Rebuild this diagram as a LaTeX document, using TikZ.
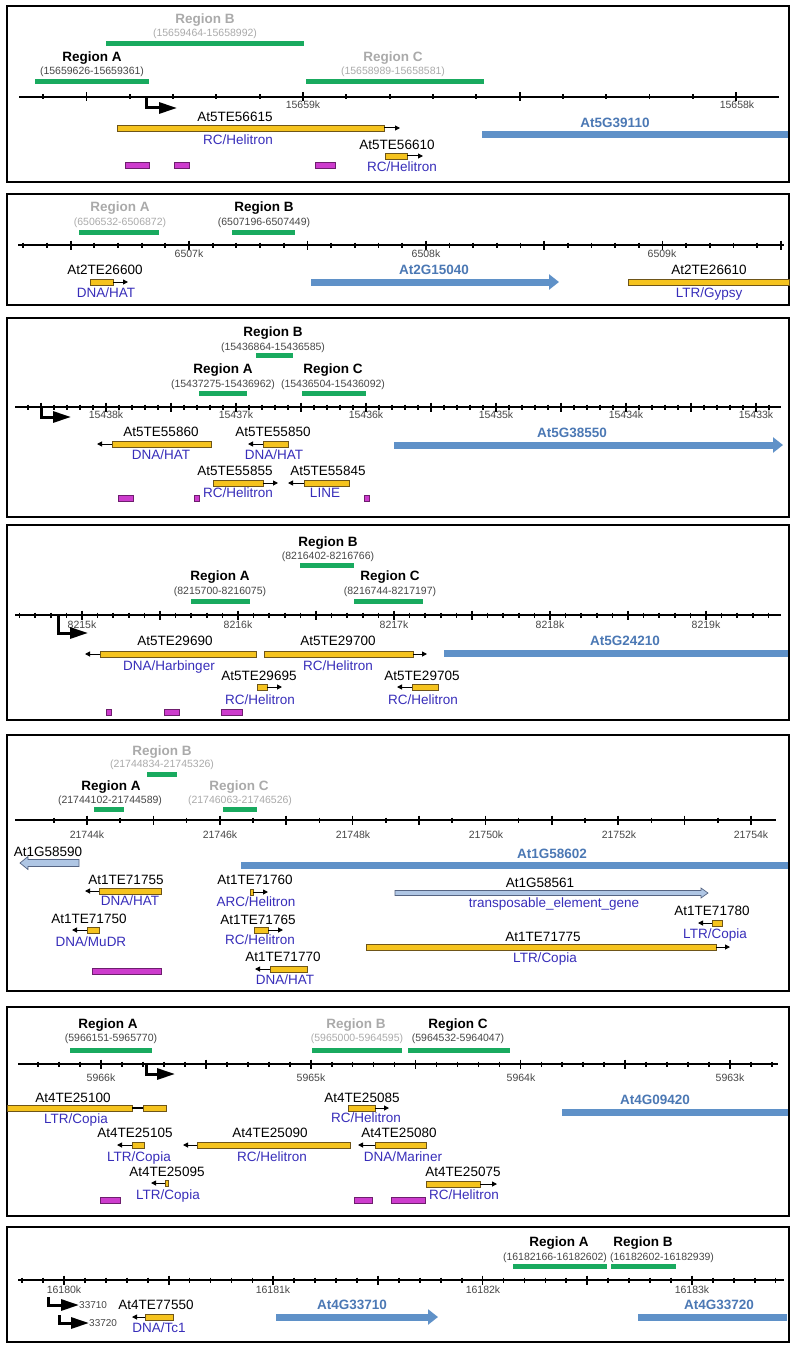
\documentclass[tikz,border=0pt]{standalone}
\usepackage{fontspec}
\setmainfont{Liberation Sans}
\usetikzlibrary{arrows.meta}

\definecolor{regreen}{RGB}{25,170,95}
\definecolor{teyellow}{RGB}{245,195,30}
\definecolor{teedge}{RGB}{110,85,25}
\definecolor{genblue}{RGB}{95,145,200}
\definecolor{genlblue}{RGB}{75,120,180}
\definecolor{lgfill}{RGB}{175,198,228}
\definecolor{lgedge}{RGB}{85,100,130}
\definecolor{magfill}{RGB}{205,60,205}
\definecolor{magedge}{RGB}{110,30,110}
\definecolor{clsblue}{RGB}{55,45,185}
\definecolor{greytxt}{RGB}{170,170,170}
\definecolor{kbgrey}{RGB}{70,70,70}

% ruler: y, x from, x to, origin, step, n from, n to, big every
\newcommand{\drawruler}[8]{%
  \draw[axisline] (#2,#1) -- (#3,#1);
  \foreach \n in {#6,...,#7}{%
    \pgfmathsetmacro\tx{#4+#5*\n}%
    \pgfmathtruncatemacro\isbig{mod(\n+1000,#8)}%
    \ifnum\isbig=0
      \draw[tk] (\tx,#1-4.5) -- (\tx,#1+4.5);
    \else
      \draw[tk] (\tx,#1-2.5) -- (\tx,#1+2.5);
    \fi
  }}

\begin{document}
\begin{tikzpicture}[
  x=1pt, y=-1pt,
  panel/.style={draw=black, line width=2.2pt},
  axisline/.style={line width=1.8pt},
  tk/.style={line width=1.7pt},
  regbar/.style={fill=regreen},
  tebox/.style={draw=teedge, fill=teyellow, line width=0.6pt},
  tearr/.style={-{Triangle[length=5pt,width=5pt]}, line width=1pt},
  genebar/.style={fill=genblue},
  genearr/.style={-{Triangle[length=10pt,width=15pt]}, line width=7pt, draw=genblue},
  lgene/.style={draw=lgedge, fill=lgfill, line width=0.7pt},
  magbox/.style={draw=magedge, fill=magfill, line width=0.5pt},
  tss/.style={-{Triangle[length=18pt,width=11pt]}, line width=3pt},
  telbl/.style={font=\fontsize{13.5}{15}\selectfont, inner sep=0pt, text height=9.6pt, text depth=0pt},
  cls/.style={telbl, text=clsblue},
  genlbl/.style={telbl, font=\fontsize{13.5}{15}\selectfont\bfseries, text=genlblue},
  reg/.style={telbl, font=\fontsize{13.5}{15}\selectfont\bfseries},
  regoff/.style={reg, text=greytxt},
  crd/.style={font=\fontsize{10.5}{12}\selectfont, inner sep=0pt, text height=7.5pt, text depth=0pt, text=kbgrey},
  crdoff/.style={crd, text=greytxt},
  kb/.style={crd},
  tsslbl/.style={font=\fontsize{10}{11}\selectfont, inner sep=0pt, text height=7.2pt, text depth=0pt, text=kbgrey, anchor=west}
]
\useasboundingbox (0,0) rectangle (800,1351);

% ---------------- Panel 1
\draw[panel] (7,6) rectangle (789,182);
\node[regoff] (p1rB) at (205,19) {Region B};
\node[crdoff] (p1rBc) at (205,33) {(15659464-15658992)};
\fill[regbar] (106,41) rectangle (304,46);
\node[reg] (p1rA) at (92,57) {Region A};
\node[crd] (p1rAc) at (92,71) {(15659626-15659361)};
\fill[regbar] (35,79) rectangle (149,84);
\node[regoff] (p1rC) at (393,57) {Region C};
\node[crdoff] (p1rCc) at (393,71) {(15658989-15658581)};
\fill[regbar] (306,79) rectangle (484,84);
\drawruler{97}{19}{779}{303}{43.33}{-6}{10}{5}
\node[kb] (p1k1) at (303,105) {15659k};
\node[kb] (p1k2) at (737,105) {15658k};
\draw[tss] (146,98) -- (146,108) -- (177,108);
\node[telbl] (p1t1) at (235,117) {At5TE56615};
\draw[tebox] (117,125) rectangle (384,131);
\draw[tearr] (384,128) -- (400,128);
\node[cls] (p1c1) at (238,140) {RC/Helitron};
\node[telbl] (p1t2) at (397,145) {At5TE56610};
\draw[tebox] (385,153) rectangle (407,159);
\draw[tearr] (407,156) -- (423,156);
\node[cls] (p1c2) at (402,167) {RC/Helitron};
\foreach \a/\b in {125/149,174/189,315/335} \draw[magbox] (\a,162) rectangle (\b,168);
\fill[genebar] (482,131) rectangle (788,138);
\node[genlbl] (p1g1) at (615,123) {At5G39110};

% ---------------- Panel 2
\draw[panel] (7,194) rectangle (789,305);
\node[regoff] (p2rA) at (120,207) {Region A};
\node[crdoff] (p2rAc) at (120,222) {(6506532-6506872)};
\fill[regbar] (79,229.5) rectangle (159,234.5);
\node[reg] (p2rB) at (264,207) {Region B};
\node[crd] (p2rBc) at (264,222) {(6507196-6507449)};
\fill[regbar] (232,229.5) rectangle (295,234.5);
\drawruler{245}{18}{784}{189}{23.67}{-7}{25}{5}
\node[kb] (p2k1) at (189,254) {6507k};
\node[kb] (p2k2) at (426,254) {6508k};
\node[kb] (p2k3) at (662,254) {6509k};
\node[telbl] (p2t1) at (105,270) {At2TE26600};
\draw[tebox] (90,279) rectangle (113,285);
\draw[tearr] (113,282) -- (128,282);
\node[cls] (p2c1) at (106,293) {DNA/HAT};
\draw[genearr] (311,282) -- (559,282);
\node[genlbl] (p2g1) at (434,270) {At2G15040};
\node[telbl] (p2t2) at (709,270) {At2TE26610};
\draw[tebox] (628,279) rectangle (789,285);
\node[cls] (p2c2) at (709,293) {LTR/Gypsy};

% ---------------- Panel 3
\draw[panel] (7,318) rectangle (789,517);
\node[reg] (p3rB) at (273,332) {Region B};
\node[crd] (p3rBc) at (273,347) {(15436864-15436585)};
\fill[regbar] (256,352.5) rectangle (293,357.5);
\node[reg] (p3rA) at (223,369) {Region A};
\node[crd] (p3rAc) at (223,384) {(15437275-15436962)};
\fill[regbar] (199,390.5) rectangle (247,395.5);
\node[reg] (p3rC) at (333,369) {Region C};
\node[crd] (p3rCc) at (333,384) {(15436504-15436092)};
\fill[regbar] (302,390.5) rectangle (366,395.5);
\drawruler{407}{15}{781}{106}{13}{-6}{51}{5}
\foreach \x/\t [count=\i] in {106/15438k,236/15437k,366/15436k,496/15435k,626/15434k,756/15433k}
  \node[kb] (p3k\i) at (\x,415) {\t};
\draw[tss] (41,408) -- (41,417) -- (71,417);
\node[telbl] (p3t1) at (161,432) {At5TE55860};
\draw[tebox] (112,441) rectangle (211,447);
\draw[tearr] (112,444) -- (97,444);
\node[cls] (p3c1) at (161,455) {DNA/HAT};
\node[telbl] (p3t2) at (273,432) {At5TE55850};
\draw[tebox] (263,441) rectangle (288,447);
\draw[tearr] (263,444) -- (248,444);
\node[cls] (p3c2) at (274,455) {DNA/HAT};
\node[telbl] (p3t3) at (235,471) {At5TE55855};
\draw[tebox] (213,480) rectangle (263,486);
\draw[tearr] (263,483) -- (278,483);
\node[cls] (p3c3) at (238,493) {RC/Helitron};
\node[telbl] (p3t4) at (328,471) {At5TE55845};
\draw[tebox] (304,480) rectangle (349,486);
\draw[tearr] (304,483) -- (288,483);
\node[cls] (p3c4) at (325,493) {LINE};
\foreach \a/\b in {118/133,194/199,364/369} \draw[magbox] (\a,495) rectangle (\b,501);
\draw[genearr] (394,445) -- (783,445);
\node[genlbl] (p3g1) at (572,433) {At5G38550};

% ---------------- Panel 4
\draw[panel] (7,525) rectangle (789,720);
\node[reg] (p4rB) at (328,542) {Region B};
\node[crd] (p4rBc) at (328,556) {(8216402-8216766)};
\fill[regbar] (300,562.5) rectangle (354,567.5);
\node[reg] (p4rA) at (220,576) {Region A};
\node[crd] (p4rAc) at (220,591) {(8215700-8216075)};
\fill[regbar] (191,598.5) rectangle (250,603.5);
\node[reg] (p4rC) at (390,576) {Region C};
\node[crd] (p4rCc) at (390,591) {(8216744-8217197)};
\fill[regbar] (354,598.5) rectangle (423,603.5);
\drawruler{615}{15}{781}{82}{15.6}{-4}{44}{5}
\foreach \x/\t [count=\i] in {82/8215k,238/8216k,394/8217k,550/8218k,706/8219k}
  \node[kb] (p4k\i) at (\x,625) {\t};
\draw[tss] (58,616) -- (58,633) -- (88,633);
\node[telbl] (p4t1) at (175,641) {At5TE29690};
\draw[tebox] (100,651) rectangle (256,657);
\draw[tearr] (100,654) -- (85,654);
\node[cls] (p4c1) at (169,666) {DNA/Harbinger};
\node[telbl] (p4t2) at (338,641) {At5TE29700};
\draw[tebox] (264,651) rectangle (413,657);
\draw[tearr] (413,654) -- (427,654);
\node[cls] (p4c2) at (338,666) {RC/Helitron};
\node[telbl] (p4t3) at (259,676) {At5TE29695};
\draw[tebox] (257,684) rectangle (267,690);
\draw[tearr] (267,687) -- (282,687);
\node[cls] (p4c3) at (260,700) {RC/Helitron};
\node[telbl] (p4t4) at (422,676) {At5TE29705};
\draw[tebox] (412,684) rectangle (438,690);
\draw[tearr] (412,687) -- (397,687);
\node[cls] (p4c4) at (423,700) {RC/Helitron};
\foreach \a/\b in {106/111,164/179,221/242} \draw[magbox] (\a,709) rectangle (\b,715);
\fill[genebar] (444,650) rectangle (788,657);
\node[genlbl] (p4g1) at (625,641) {At5G24210};

% ---------------- Panel 5
\draw[panel] (7,735) rectangle (789,991);
\node[regoff] (p5rB) at (162,751) {Region B};
\node[crdoff] (p5rBc) at (162,764) {(21744834-21745326)};
\fill[regbar] (147,771.5) rectangle (177,776.5);
\node[reg] (p5rA) at (111,786) {Region A};
\node[crd] (p5rAc) at (110,800) {(21744102-21744589)};
\fill[regbar] (94,806.5) rectangle (124,811.5);
\node[regoff] (p5rC) at (239,786) {Region C};
\node[crdoff] (p5rCc) at (240,800) {(21746063-21746526)};
\fill[regbar] (223,806.5) rectangle (257,811.5);
\drawruler{820}{15}{776}{87}{33.2}{-1}{20}{2}
\foreach \x/\t [count=\i] in {87/21744k,220/21746k,353/21748k,486/21750k,619/21752k,751/21754k}
  \node[kb] (p5k\i) at (\x,835) {\t};
\node[telbl] (p5g1) at (48,852) {At1G58590};
\draw[lgene] (79,859.5) -- (28,859.5) -- (28,856.5) -- (20,863) -- (28,869.5) -- (28,866.5) -- (79,866.5) -- cycle;
\fill[genebar] (241,861.5) rectangle (788,868.5);
\node[genlbl] (p5g2) at (552,854) {At1G58602};
\node[telbl] (p5t1) at (126,880) {At1TE71755};
\draw[tebox] (99,888) rectangle (161,894);
\draw[tearr] (99,891) -- (85,891);
\node[cls] (p5c1) at (130,901) {DNA/HAT};
\node[telbl] (p5t2) at (89,919) {At1TE71750};
\draw[tebox] (87,927) rectangle (99,933);
\draw[tearr] (87,930) -- (72,930);
\node[cls] (p5c2) at (91,942) {DNA/MuDR};
\draw[magbox] (92,968) rectangle (161,974);
\node[telbl] (p5t3) at (255,880) {At1TE71760};
\draw[tebox] (250,889) rectangle (253,895);
\draw[tearr] (253,892) -- (268,892);
\node[cls] (p5c3) at (256,902) {ARC/Helitron};
\node[telbl] (p5t4) at (258,920) {At1TE71765};
\draw[tebox] (254,927) rectangle (268,933);
\draw[tearr] (268,930) -- (283,930);
\node[cls] (p5c4) at (260,940) {RC/Helitron};
\node[telbl] (p5t5) at (283,957) {At1TE71770};
\draw[tebox] (270,966) rectangle (307,972);
\draw[tearr] (270,969) -- (255,969);
\node[cls] (p5c5) at (285,980) {DNA/HAT};
\node[telbl] (p5g3) at (540,883) {At1G58561};
\draw[lgene] (395,890.5) -- (701,890.5) -- (701,888) -- (708,893) -- (701,898) -- (701,895.5) -- (395,895.5) -- cycle;
\node[cls] (p5c6) at (554,903) {transposable\_element\_gene};
\node[telbl] (p5t6) at (712,911) {At1TE71780};
\draw[tebox] (712,920) rectangle (722,926);
\draw[tearr] (712,923) -- (698,923);
\node[cls] (p5c7) at (715,934) {LTR/Copia};
\node[telbl] (p5t7) at (543,937) {At1TE71775};
\draw[tebox] (366,944) rectangle (716,950);
\draw[tearr] (716,947) -- (730,947);
\node[cls] (p5c8) at (545,958) {LTR/Copia};

% ---------------- Panel 6
\draw[panel] (7,1007) rectangle (789,1216);
\node[reg] (p6rA) at (108,1024) {Region A};
\node[crd] (p6rAc) at (111,1038) {(5966151-5965770)};
\fill[regbar] (70,1047.5) rectangle (152,1052.5);
\node[regoff] (p6rB) at (356,1024) {Region B};
\node[crdoff] (p6rBc) at (357,1038) {(5965000-5964595)};
\fill[regbar] (312,1047.5) rectangle (402,1052.5);
\node[reg] (p6rC) at (458,1024) {Region C};
\node[crd] (p6rCc) at (458,1038) {(5964532-5964047)};
\fill[regbar] (408,1047.5) rectangle (510,1052.5);
\drawruler{1064}{18}{778}{101}{20.97}{-3}{32}{5}
\foreach \x/\t [count=\i] in {101/5966k,311/5965k,521/5964k,730/5963k}
  \node[kb] (p6k\i) at (\x,1078) {\t};
\draw[tss] (146,1065) -- (146,1074) -- (175,1074);
\node[telbl] (p6t1) at (73,1098) {At4TE25100};
\draw[tebox] (7,1105) rectangle (132,1111);
\draw[line width=1.2pt] (132,1108) -- (143,1108);
\draw[tebox] (143,1105) rectangle (166,1111);
\node[cls] (p6c1) at (76,1119) {LTR/Copia};
\node[telbl] (p6t2) at (362,1098) {At4TE25085};
\draw[tebox] (348,1105) rectangle (375,1111);
\draw[tearr] (375,1108) -- (389,1108);
\node[cls] (p6c2) at (366,1118) {RC/Helitron};
\fill[genebar] (562,1108.5) rectangle (788,1115.5);
\node[genlbl] (p6g1) at (655,1100) {At4G09420};
\node[telbl] (p6t3) at (135,1133) {At4TE25105};
\draw[tebox] (132,1142) rectangle (144,1148);
\draw[tearr] (132,1145) -- (117,1145);
\node[cls] (p6c3) at (139,1157) {LTR/Copia};
\node[telbl] (p6t4) at (270,1133) {At4TE25090};
\draw[tebox] (197,1142) rectangle (350,1148);
\draw[tearr] (197,1145) -- (183,1145);
\node[cls] (p6c4) at (272,1157) {RC/Helitron};
\node[telbl] (p6t5) at (399,1133) {At4TE25080};
\draw[tebox] (375,1142) rectangle (426,1148);
\draw[tearr] (375,1145) -- (358,1145);
\node[cls] (p6c5) at (403,1157) {DNA/Mariner};
\node[telbl] (p6t6) at (167,1172) {At4TE25095};
\draw[tebox] (165,1180) rectangle (168,1186);
\draw[tearr] (165,1183) -- (151,1183);
\node[cls] (p6c6) at (168,1195) {LTR/Copia};
\node[telbl] (p6t7) at (463,1172) {At4TE25075};
\draw[tebox] (426,1181) rectangle (480,1187);
\draw[tearr] (480,1184) -- (497,1184);
\node[cls] (p6c7) at (464,1195) {RC/Helitron};
\foreach \a/\b in {100/120,354/372,391/425} \draw[magbox] (\a,1197) rectangle (\b,1203);

% ---------------- Panel 7
\draw[panel] (7,1227) rectangle (789,1342);
\node[reg] (p7rA) at (559,1242) {Region A};
\node[crd] (p7rAc) at (555,1257) {(16182166-16182602)};
\fill[regbar] (513,1263.5) rectangle (607,1268.5);
\node[reg] (p7rB) at (643,1242) {Region B};
\node[crd] (p7rBc) at (662,1257) {(16182602-16182939)};
\fill[regbar] (611,1263.5) rectangle (676,1268.5);
\drawruler{1280}{18}{784}{64}{20.93}{-2}{34}{5}
\foreach \x/\t [count=\i] in {64/16180k,273/16181k,483/16182k,692/16183k}
  \node[kb] (p7k\i) at (\x,1290) {\t};
\draw[tss] (48,1297) -- (48,1305) -- (79,1305);
\node[tsslbl] (p7s1) at (79,1305) {33710};
\draw[tss] (59,1315) -- (59,1323) -- (89,1323);
\node[tsslbl] (p7s2) at (89,1323) {33720};
\node[telbl] (p7t1) at (156,1305) {At4TE77550};
\draw[tebox] (145,1314) rectangle (173,1320);
\draw[tearr] (145,1317) -- (132,1317);
\node[cls] (p7c1) at (159,1328) {DNA/Tc1};
\draw[genearr] (276,1317) -- (438,1317);
\node[genlbl] (p7g1) at (352,1305) {At4G33710};
\fill[genebar] (638,1313.5) rectangle (787,1320.5);
\node[genlbl] (p7g2) at (719,1305) {At4G33720};

\end{tikzpicture}
\end{document}
